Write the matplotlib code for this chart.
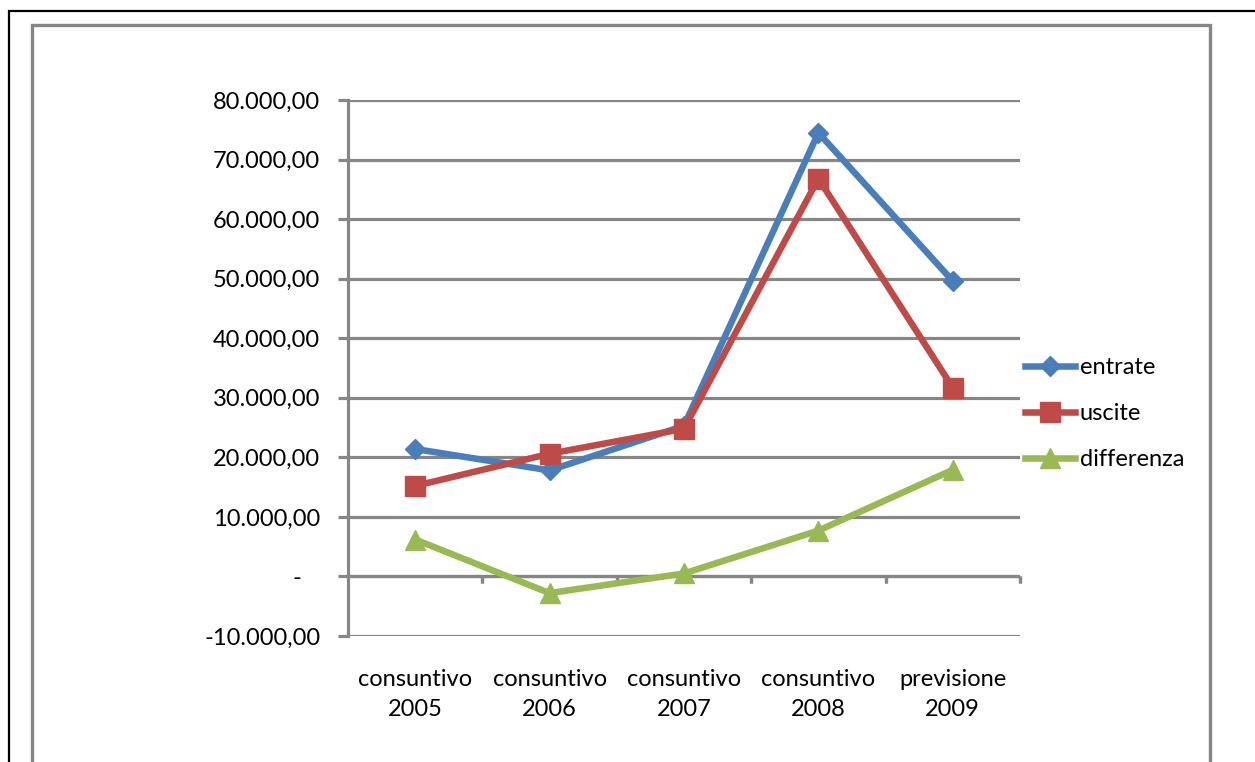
import matplotlib.pyplot as plt
import matplotlib.transforms as mtransforms
from matplotlib.patches import Rectangle
from matplotlib.ticker import FuncFormatter, MultipleLocator

plt.rcParams['font.family'] = ['Lato', 'DejaVu Sans']

categorie = ["consuntivo\n2005", "consuntivo\n2006", "consuntivo\n2007",
             "consuntivo\n2008", "previsione\n2009"]
entrate = [21400, 17800, 25300, 74500, 49600]
uscite = [15200, 20600, 24800, 66800, 31700]
differenza = [e - u for e, u in zip(entrate, uscite)]

blu = "#4A7EBB"
rosso = "#BE4B48"
verde = "#98B954"
grigio = "#868686"
fs = 17

W, H = 1255, 762
fig = plt.figure(figsize=(W / 100, H / 100), dpi=100)

# cornici del grafico
fig.patches.append(Rectangle((9 / W, -0.2), 1.2, 1 - 11 / H + 0.2, transform=fig.transFigure,
                             fill=False, edgecolor="black", linewidth=1.6))
fig.patches.append(Rectangle((32 / W, -0.2), (1210 - 32) / W, 1 - 25 / H + 0.2,
                             transform=fig.transFigure, fill=False, edgecolor=grigio, linewidth=2.4))

ax = fig.add_axes([348 / W, 1 - 636 / H, (1020 - 348) / W, (636 - 100) / H])

x = list(range(len(categorie)))
ax.plot(x, entrate, color=blu, lw=4.7, marker="D", ms=10.5, label="entrate", zorder=3)
ax.plot(x, uscite, color=rosso, lw=4.7, marker="s", ms=14.5, label="uscite", zorder=4)
ax.plot(x, differenza, color=verde, lw=4.7, marker="^", ms=14.5, label="differenza", zorder=3)

ax.set_xlim(-0.5, len(categorie) - 0.5)
ax.set_ylim(-10000, 80000)
ax.yaxis.set_major_locator(MultipleLocator(10000))


def formato(v, pos):
    if abs(v) < 1e-6:
        return "-   "
    s = f"{v:,.2f}"
    return s.replace(",", "X").replace(".", ",").replace("X", ".")


ax.yaxis.set_major_formatter(FuncFormatter(formato))
ax.grid(axis="y", color=grigio, lw=2.3)
ax.set_axisbelow(True)

for s in ["top", "right", "bottom"]:
    ax.spines[s].set_visible(False)
ax.spines["left"].set_color(grigio)
ax.spines["left"].set_linewidth(2.3)
ax.tick_params(axis="y", length=7, width=2.3, color=grigio, labelsize=fs, pad=13)

# asse orizzontale sullo zero con le tacche tra le categorie
ax.axhline(0, color=grigio, lw=2.3, zorder=1)
ax.set_xticks([])
for b in [i + 0.5 for i in x]:
    ax.plot([b, b], [0, 0], color=grigio, lw=2.3, marker=3, ms=5, mew=2.3, zorder=1, clip_on=False)

trans = mtransforms.blended_transform_factory(ax.transData, ax.transAxes)
for i, lab in zip(x, categorie):
    ax.text(i, -0.062, lab, transform=trans, ha="center", va="top", fontsize=fs,
            linespacing=1.5)

leg = ax.legend(loc="center left", bbox_to_anchor=(0.994, 0.415), frameon=False, fontsize=fs,
                handlelength=2.1, handletextpad=0.2, labelspacing=1.05, borderaxespad=0)

fig.savefig("out.png", dpi=100)
